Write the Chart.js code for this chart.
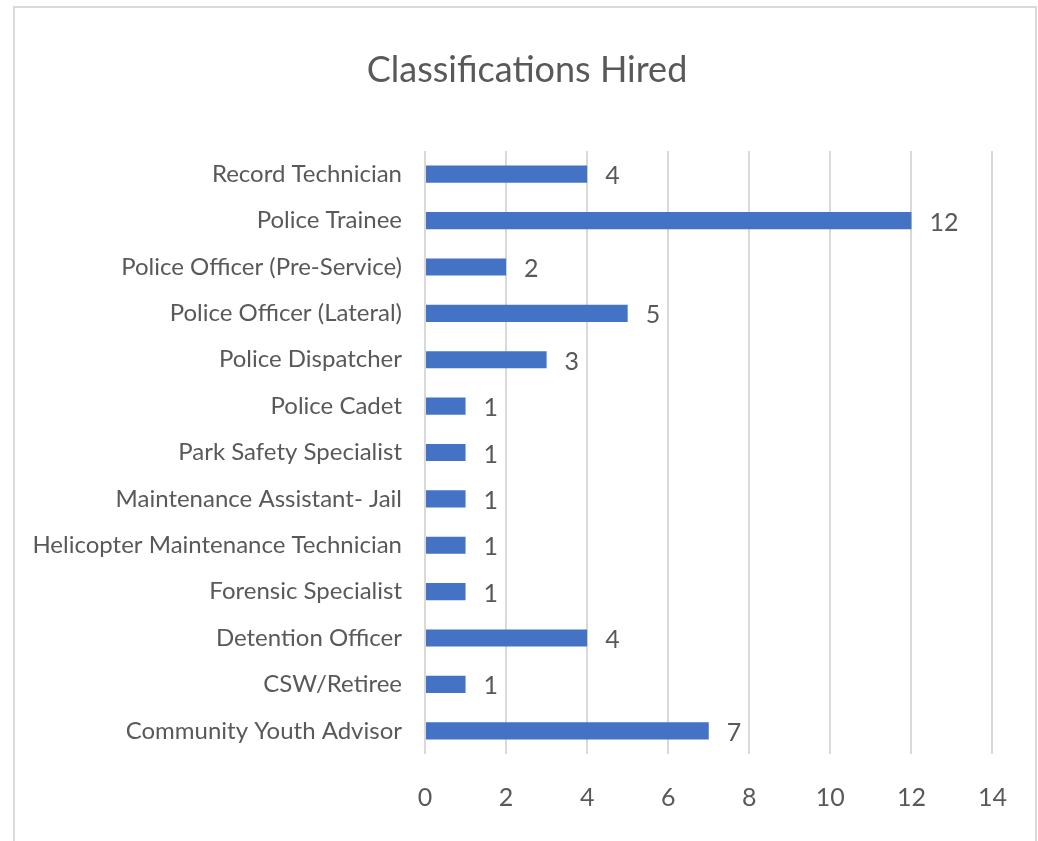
<!DOCTYPE html>
<html>
<head>
<meta charset="utf-8">
<script src="https://cdn.jsdelivr.net/npm/chart.js@4.4.1/dist/chart.umd.min.js"></script>
<style>
  html, body { margin: 0; padding: 0; background: #fff; }
  #wrap { position: relative; width: 1038px; height: 841px; overflow: hidden; }
  #frame { position: absolute; left: 13px; top: 6px; width: 1020px; height: 860px;
           border: 2px solid #d9d9d9; pointer-events: none; }
</style>
</head>
<body>
<div id="wrap">
  <canvas id="myChart" width="1038" height="841"></canvas>
  <div id="frame"></div>
</div>
<script>
// data
var categories = [
    'Record Technician',
    'Police Trainee',
    'Police Officer (Pre-Service)',
    'Police Officer (Lateral)',
    'Police Dispatcher',
    'Police Cadet',
    'Park Safety Specialist',
    'Maintenance Assistant- Jail',
    'Helicopter Maintenance Technician',
    'Forensic Specialist',
    'Detention Officer',
    'CSW/Retiree',
    'Community Youth Advisor'
];
var hired = [4, 12, 2, 5, 3, 1, 1, 1, 1, 1, 4, 1, 7];
var xTicks = [0, 2, 4, 6, 8, 10, 12, 14];
var chartTitle = 'Classifications Hired';

var fontFamily = "Lato, 'Noto Sans', sans-serif";
var textColor = '#595959';

// title centred on the whole frame, not on the padded chart
var frameTitle = {
    id: 'frameTitle',
    afterDraw: function (chart) {
        var ctx = chart.ctx;
        ctx.save();
        ctx.font = '36px ' + fontFamily;
        ctx.fillStyle = textColor;
        ctx.textAlign = 'center';
        ctx.textBaseline = 'middle';
        ctx.fillText(chartTitle, 527, 70);
        ctx.restore();
    }
};

// draw the value next to each bar
var valueLabels = {
    id: 'valueLabels',
    afterDatasetsDraw: function (chart) {
        var ctx = chart.ctx;
        var meta = chart.getDatasetMeta(0);
        ctx.save();
        ctx.font = '25px ' + fontFamily;
        ctx.fillStyle = textColor;
        ctx.textAlign = 'left';
        ctx.textBaseline = 'middle';
        meta.data.forEach(function (bar, i) {
            ctx.fillText(String(hired[i]), bar.x + 18, bar.y + 2);
        });
        ctx.restore();
    }
};

var ctx = document.getElementById('myChart').getContext('2d');
var myChart = new Chart(ctx, {
    type: 'bar',
    data: {
        labels: categories,
        datasets: [{
            data: hired,
            backgroundColor: '#4472C4',
            borderWidth: 0,
            categoryPercentage: 1,
            barPercentage: 0.37
        }]
    },
    options: {
        indexAxis: 'y',
        responsive: false,
        animation: false,
        layout: { padding: { left: 0, right: 44, top: 151, bottom: 0 } },
        plugins: {
            legend: { display: false },
            tooltip: { enabled: false },
            title: { display: false }
        },
        scales: {
            x: {
                min: 0,
                max: 14,
                afterBuildTicks: function (scale) {
                    scale.ticks = xTicks.map(function (v) { return { value: v }; });
                },
                grid: { color: '#d9d9d9', lineWidth: 2, drawTicks: false },
                border: { display: false },
                ticks: {
                    color: textColor,
                    padding: 31,
                    font: { family: fontFamily, size: 25, lineHeight: 1.0 }
                }
            },
            y: {
                afterFit: function (scale) { scale.width = 425; },
                grid: { display: false, drawTicks: false },
                border: { display: false },
                ticks: {
                    color: textColor,
                    padding: 23,
                    autoSkip: false,
                    font: { family: fontFamily, size: 24 }
                }
            }
        }
    },
    plugins: [valueLabels, frameTitle]
});
</script>
</body>
</html>
